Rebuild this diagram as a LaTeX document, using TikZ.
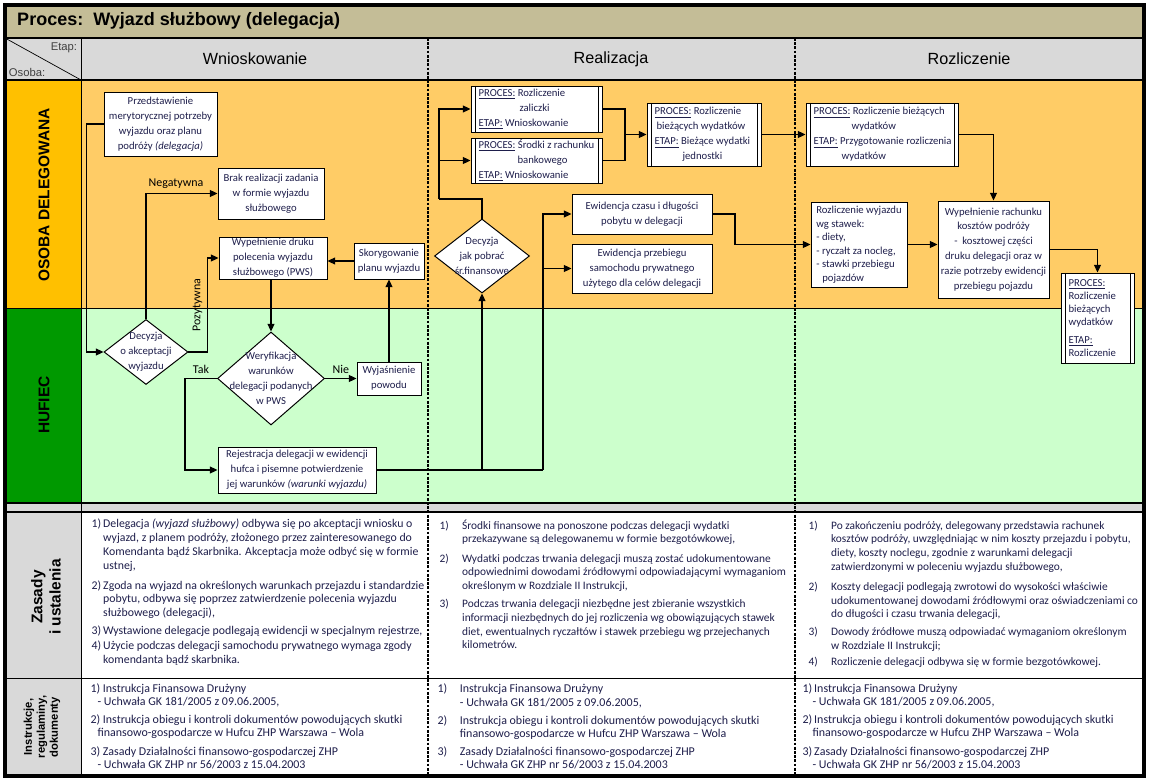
\documentclass[tikz,border=0pt]{standalone}
\usepackage{fontspec}
\setmainfont{Carlito}
\newfontfamily\arialfont{Liberation Sans}
\usepackage{xcolor}
\usetikzlibrary{positioning, arrows.meta, shapes.geometric}

\definecolor{procestan}{RGB}{196,189,151}
\definecolor{naglowek}{RGB}{217,217,217}
\definecolor{osobaciemny}{RGB}{255,192,0}
\definecolor{osobajasny}{RGB}{255,204,102}
\definecolor{hufiecciemny}{RGB}{0,153,0}
\definecolor{hufiecjasny}{RGB}{204,255,204}
\definecolor{tekst}{RGB}{30,30,75}

\newlength{\pxl}
\setlength{\pxl}{0.025cm}
\newcommand{\boxfont}{\fontsize{7.6}{10.6}\selectfont}
\newcommand{\zasfont}{\fontsize{8.4}{9.8}\selectfont}
\newcommand{\insfont}{\fontsize{8.5}{9.4}\selectfont}
\newcommand{\etykieta}[1]{\underline{#1}}

\begin{document}
\begin{tikzpicture}[x=0.025cm,y=-0.025cm,>={Triangle[length=5.5pt,width=5pt]},line width=0.8pt,
  every node/.style={text=tekst},
  wh/.style 2 args={minimum width=#1*0.025cm,minimum height=#2*0.025cm},
  task/.style={draw=black,fill=white,line width=0.7pt,font=\boxfont,align=center,inner sep=1pt},
  decision/.style={diamond,draw=black,fill=white,line width=0.7pt,inner sep=0pt},
  subproc/.style={draw=black,fill=white,line width=0.7pt,inner sep=0pt,
    path picture={
      \draw[line width=0.6pt] ([xshift=4\pxl]path picture bounding box.north west) -- ([xshift=4\pxl]path picture bounding box.south west);
      \draw[line width=0.6pt] ([xshift=-4\pxl]path picture bounding box.north east) -- ([xshift=-4\pxl]path picture bounding box.south east);}},
  subtext/.style={font=\boxfont,align=left,anchor=west,xshift=2pt},
  lbl/.style={font=\boxfont,align=center},
  conn/.style={font=\fontsize{8.5}{10}\selectfont,text=black},
  zasada/.style={anchor=north west,font=\zasfont,inner sep=0pt,align=left},
  lane/.style={font=\arialfont\bfseries\fontsize{11}{13}\selectfont,rotate=90,text=black,align=center},
  etap/.style={font=\arialfont\fontsize{11.5}{13}\selectfont,text=black},
  divider/.style={line width=1.3pt,dash pattern=on 2pt off 1pt}]

  \useasboundingbox (0,0) rectangle (1152,781);

  % tlo i tabela
  \fill[white] (0,0) rectangle (1152,781);
  \fill[procestan] (5,5) rectangle (1144,38);
  \fill[naglowek] (5,38) rectangle (1144,80);
  \fill[osobaciemny] (5,80) rectangle (81,308);
  \fill[osobajasny] (81,80) rectangle (1144,308);
  \fill[hufiecciemny] (5,308) rectangle (81,503);
  \fill[hufiecjasny] (81,308) rectangle (1144,503);
  \fill[naglowek] (5,503) rectangle (1144,512);
  \fill[naglowek] (5,512) rectangle (81,776);

  \draw[line width=1pt] (5,38) -- (1144,38);
  \draw[line width=1.5pt] (5,80) -- (1144,80);
  \draw[line width=0.6pt] (5,308) -- (1144,308);
  \draw[line width=1.8pt] (5,503) -- (1144,503);
  \draw[line width=1.8pt] (5,512) -- (1144,512);
  \draw[line width=0.6pt] (5,678) -- (1144,678);
  \draw[line width=0.6pt] (81,38) -- (81,776);
  \draw[line width=0.5pt] (5,38) -- (81,80);
  \draw[divider] (428,38) -- (428,776);
  \draw[divider] (795,38) -- (795,776);
  \draw[line width=2.2pt] (5,5) rectangle (1144,776);

  \node[anchor=west,font=\arialfont\bfseries\fontsize{12.8}{15}\selectfont,text=black] (tytul) at (12,21) {Proces:\ \ Wyjazd służbowy (delegacja)};
  \node[anchor=north east,inner sep=1pt,font=\arialfont\fontsize{8}{9}\selectfont,text=black!75] (etapl) at (79,41) {Etap:};
  \node[anchor=south west,inner sep=1pt,font=\arialfont\fontsize{8}{9}\selectfont,text=black!75] (osobal) at (7,79) {Osoba:};
  \node[etap] (wniosk) at (255,59) {Wnioskowanie};
  \node[etap] (realiz) at (611,59) {Realizacja};
  \node[etap] (rozlicz) at (969,59) {Rozliczenie};

  \node[lane] (osoba) at (44,195) {OSOBA DELEGOWANA};
  \node[lane] (hufiec) at (44,405) {HUFIEC};
  \node[lane] (zasady) at (46,597) {Zasady\\i ustalenia};
  \node[lane,font=\arialfont\bfseries\fontsize{8}{9.2}\selectfont] (instr) at (42,727) {Instrukcje,\\regulaminy,\\dokumenty};

  % Wnioskowanie
  \node[task,wh={113}{64}] (przed) at (160.5,124) {Przedstawienie\\merytorycznej potrzeby\\wyjazdu oraz planu\\podróży \textit{(delegacja)}};
  \node[task,wh={106}{51}] (brak) at (271,193.5) {Brak realizacji zadania\\w formie wyjazdu\\służbowego};
  \node[task,wh={108}{42}] (wypel) at (273,258) {Wypełnienie druku\\polecenia wyjazdu\\służbowego (PWS)};
  \node[task,wh={70}{36}] (skoryg) at (389,261) {Skorygowanie\\planu wyjazdu};
  \node[decision,wh={84}{65},label={[lbl]center:Decyzja\\o akceptacji\\wyjazdu}] (decA) at (146,352) {};
  \node[decision,wh={107}{93},label={[lbl]center:Weryfikacja\\warunków\\delegacji podanych\\w PWS}] (weryf) at (271,378.5) {};
  \node[task,wh={64}{33}] (wyjasn) at (389,378.5) {Wyjaśnienie\\powodu};
  \node[task,wh={158}{46}] (rejestr) at (297,470) {Rejestracja delegacji w ewidencji\\hufca i pisemne potwierdzenie\\jej warunków \textit{(warunki wyjazdu)}};

  % Realizacja
  \node[decision,wh={95}{74},label={[lbl]center:Decyzja\\jak pobrać\\śr.finansowe}] (decB) at (482,256) {};
  \node[subproc,wh={131}{46},label={[subtext]west:\etykieta{PROCES:} Rozliczenie\\\hspace*{41\pxl}zaliczki\\\etykieta{ETAP:} Wnioskowanie}] (zaliczki) at (536.5,109) {};
  \node[subproc,wh={131}{45},label={[subtext]west:\etykieta{PROCES:} Środki z rachunku\\\hspace*{39\pxl}bankowego\\\etykieta{ETAP:} Wnioskowanie}] (srodki) at (536.5,160.5) {};
  \node[subproc,wh={114}{63},label={[subtext]west:\etykieta{PROCES:} Rozliczenie\\\hspace*{2\pxl}bieżących wydatków\\\etykieta{ETAP:} Bieżące wydatki\\\hspace*{28\pxl}jednostki}] (biezace) at (704,134.5) {};
  \node[task,wh={140}{40}] (ewczas) at (642,214) {Ewidencja czasu i długości\\pobytu w delegacji};
  \node[task,wh={140}{49}] (ewprzeb) at (642,268.5) {Ewidencja przebiegu\\samochodu prywatnego\\użytego dla celów delegacji};

  % Rozliczenie
  \node[subproc,wh={152}{63},label={[subtext]west:\etykieta{PROCES:} Rozliczenie bieżących\\\hspace*{38\pxl}wydatków\\\etykieta{ETAP:} Przygotowanie rozliczenia\\\hspace*{28\pxl}wydatków}] (rozlbiez) at (882,134.5) {};
  \node[task,wh={96}{85},align=left,font=\fontsize{7.6}{9.6}\selectfont] (rozlwyj) at (859,244.5) {Rozliczenie wyjazdu\\wg stawek:\\- diety,\\- ryczałt za nocleg,\\- stawki przebiegu\\\hspace*{6\pxl}pojazdów};
  \node[task,wh={111}{97}] (rachunek) at (993.5,249.5) {Wypełnienie rachunku\\kosztów podróży\\-\ \ kosztowej części\\druku delegacji oraz w\\razie potrzeby ewidencji\\przebiegu pojazdu};
  \node[subproc,wh={73}{90},label={[subtext,font=\fontsize{7.6}{9.4}\selectfont]west:\etykieta{PROCES:}\\Rozliczenie\\bieżących\\wydatków\\[3pt]\etykieta{ETAP:}\\Rozliczenie}] (rozlproc) at (1097.5,318) {};

  % przeplyw
  \draw[->] (przed.west) -- ++(-17,0) |- (decA.west);
  \draw[->] (decA.north) |- node[conn,pos=0.71,above] {Negatywna} (brak.west);
  \draw[->] (decA.east) -- ++(19,0) |- node[conn,pos=0.25,rotate=90,anchor=south] {Pozytywna} (wypel.west);
  \draw[->] (weryf.north |- wypel.south) -- (weryf.north);
  \draw[->] (weryf.east) -- node[conn,above] {Nie} (wyjasn.west);
  \draw[->] (wyjasn.north) -- (skoryg.south);
  \draw[->] (skoryg.west) -- (skoryg.west -| wypel.east);
  \draw[->] (weryf.west) -- node[conn,above] {Tak} ++(-32,0) |- (rejestr.west);

  \coordinate (rozdz) at (543,470);
  \draw (rejestr.east) -- (rozdz);
  \draw[->] (rozdz) |- (ewczas.west);
  \draw[->] (rozdz |- ewprzeb.west) -- (ewprzeb.west);
  \draw[->] (decB.south |- rozdz) -- (decB.south);

  \coordinate (wybor) at (439,199);
  \draw (decB.north) |- (wybor);
  \draw[->] (wybor) |- (zaliczki.west);
  \draw[->] (wybor |- srodki.west) -- (srodki.west);
  \coordinate (zbior) at (625,134.5);
  \draw (zaliczki.east) -| (zbior);
  \draw (srodki.east) -| (zbior);
  \draw[->] (zbior) -- (biezace.west);
  \draw[->] (biezace.east) -- (rozlbiez.west);
  \coordinate (ewid) at (735,244.5);
  \draw[->] (ewczas.east) -| (ewid) -- (rozlwyj.west);
  \draw[->] (rozlbiez.east) -| (rachunek.north);
  \draw[->] (rozlwyj.east) -- (rozlwyj.east -| rachunek.west);
  \draw[->] (rachunek.east) -| (rozlproc.north);

  % zasady i ustalenia
  \node[zasada] (zas1) at (91,517.5) {\begin{tabular}{@{}l@{\hspace{1.5pt}}l@{}}
    1) & Delegacja \textit{(wyjazd służbowy)} odbywa się po akceptacji wniosku o\\
       & wyjazd, z planem podróży, złożonego przez zainteresowanego do\\
       & Komendanta bądź Skarbnika. Akceptacja może odbyć się w formie\\
       & ustnej,\\[4.5pt]
    2) & Zgoda na wyjazd na określonych warunkach przejazdu i standardzie\\
       & pobytu, odbywa się poprzez zatwierdzenie polecenia wyjazdu\\
       & służbowego (delegacji),\\[2.6pt]
    3) & Wystawione delegacje podlegają ewidencji w specjalnym rejestrze,\\[1.2pt]
    4) & Użycie podczas delegacji samochodu prywatnego wymaga zgody\\
       & komendanta bądź skarbnika.
  \end{tabular}};
  \node[zasada,font=\fontsize{8.1}{9.7}\selectfont] (zas2) at (439,519) {\begin{tabular}{@{}l@{\hspace{9.5pt}}l@{}}
    1) & Środki finansowe na ponoszone podczas delegacji wydatki\\
       & przekazywane są delegowanemu w formie bezgotówkowej,\\[4pt]
    2) & Wydatki podczas trwania delegacji muszą zostać udokumentowane\\
       & odpowiednimi dowodami źródłowymi odpowiadającymi wymaganiom\\
       & określonym w Rozdziale II Instrukcji,\\[3.5pt]
    3) & Podczas trwania delegacji niezbędne jest zbieranie wszystkich\\
       & informacji niezbędnych do jej rozliczenia wg obowiązujących stawek\\
       & diet, ewentualnych ryczałtów i stawek przebiegu wg przejechanych\\
       & kilometrów.
  \end{tabular}};
  \node[zasada,font=\fontsize{8.1}{9.8}\selectfont] (zas3) at (808,519) {\begin{tabular}{@{}l@{\hspace{9.5pt}}l@{}}
    1) & Po zakończeniu podróży, delegowany przedstawia rachunek\\
       & kosztów podróży, uwzględniając w nim koszty przejazdu i pobytu,\\
       & diety, koszty noclegu, zgodnie z warunkami delegacji\\
       & zatwierdzonymi w poleceniu wyjazdu służbowego,\\[4.3pt]
    2) & Koszty delegacji podlegają zwrotowi do wysokości właściwie\\
       & udokumentowanej dowodami źródłowymi oraz oświadczeniami co\\
       & do długości i czasu trwania delegacji,\\[2.8pt]
    3) & Dowody źródłowe muszą odpowiadać wymaganiom określonym\\
       & w Rozdziale II Instrukcji;\\[1.6pt]
    4) & Rozliczenie delegacji odbywa się w formie bezgotówkowej.
  \end{tabular}};

  % instrukcje, regulaminy, dokumenty
  \node[zasada,font=\insfont] (ins1) at (90,683) {1) Instrukcja Finansowa Drużyny\\
    \hspace*{7\pxl}- Uchwała GK 181/2005 z 09.06.2005,\\[3.5pt]
    2) Instrukcja obiegu i kontroli dokumentów powodujących skutki\\
    \hspace*{7\pxl}finansowo-gospodarcze w Hufcu ZHP Warszawa – Wola\\[3.5pt]
    3) Zasady Działalności finansowo-gospodarczej ZHP\\
    \hspace*{7\pxl}- Uchwała GK ZHP nr 56/2003 z 15.04.2003};
  \node[zasada,font=\insfont] (ins2) at (437,683) {\begin{tabular}{@{}l@{\hspace{9pt}}l@{}}
    1) & Instrukcja Finansowa Drużyny\\
       & - Uchwała GK 181/2005 z 09.06.2005,\\[3.5pt]
    2) & Instrukcja obiegu i kontroli dokumentów powodujących skutki\\
       & finansowo-gospodarcze w Hufcu ZHP Warszawa – Wola\\[3.5pt]
    3) & Zasady Działalności finansowo-gospodarczej ZHP\\
       & - Uchwała GK ZHP nr 56/2003 z 15.04.2003
  \end{tabular}};
  \node[zasada,font=\insfont] (ins3) at (802,683) {1)\,Instrukcja Finansowa Drużyny\\
    \hspace*{10\pxl}- Uchwała GK 181/2005 z 09.06.2005,\\[3.5pt]
    2)\,Instrukcja obiegu i kontroli dokumentów powodujących skutki\\
    \hspace*{10\pxl}finansowo-gospodarcze w Hufcu ZHP Warszawa – Wola\\[3.5pt]
    3)\,Zasady Działalności finansowo-gospodarczej ZHP\\
    \hspace*{10\pxl}- Uchwała GK ZHP nr 56/2003 z 15.04.2003};
\end{tikzpicture}
\end{document}
